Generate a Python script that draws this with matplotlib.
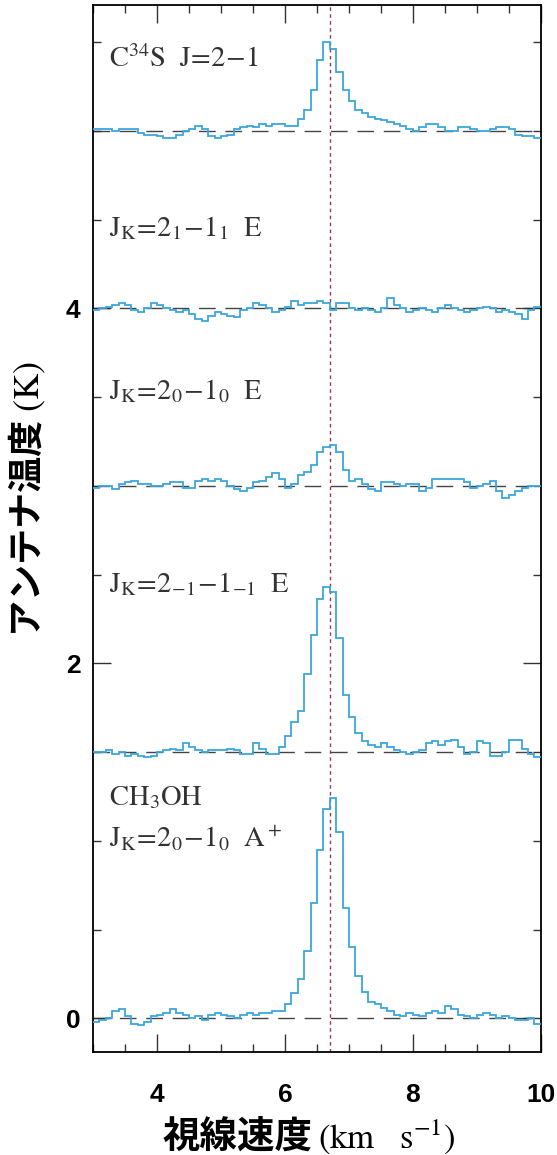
import numpy as np
import matplotlib
matplotlib.use("Agg")
import matplotlib.pyplot as plt
from matplotlib.ticker import MultipleLocator

plt.rcParams["mathtext.fontset"] = "stix"

# channel edges (km/s), 0.1 km/s channels
edges = np.linspace(3.0, 10.0, 71)

# antenna temperature (K) per channel, relative to each baseline
t_a_plus = [
    -0.02, -0.01, 0.00, 0.04, 0.05, 0.01, -0.03, -0.04, -0.02, 0.01,
    0.02, 0.03, 0.05, 0.03, 0.02, 0.00, 0.01, -0.01, 0.02, 0.03,
    0.02, 0.01, 0.00, 0.02, 0.03, 0.02, 0.03, 0.03, 0.04, 0.04,
    0.08, 0.14, 0.22, 0.38, 0.65, 0.95, 1.18, 1.24, 1.05, 0.62,
    0.40, 0.24, 0.15, 0.09, 0.08, 0.06, 0.04, 0.02, 0.01, 0.03,
    0.02, 0.01, 0.03, 0.04, 0.03, 0.07, 0.05, 0.02, 0.01, 0.00,
    0.02, 0.03, 0.02, 0.00, 0.01, 0.00, -0.01, -0.01, 0.00, -0.03,
]
t_e_m1 = [
    0.00, 0.00, 0.01, -0.01, 0.00, -0.02, -0.01, -0.02, -0.03, -0.02,
    0.00, 0.01, 0.02, 0.01, 0.05, 0.03, 0.01, 0.00, 0.01, 0.01,
    0.01, 0.02, 0.01, -0.01, -0.01, 0.05, 0.02, -0.01, -0.01, 0.03,
    0.09, 0.17, 0.23, 0.44, 0.66, 0.86, 0.93, 0.90, 0.64, 0.32,
    0.20, 0.11, 0.06, 0.04, 0.03, 0.05, 0.03, 0.01, 0.00, -0.01,
    0.00, 0.01, 0.05, 0.06, 0.04, 0.06, 0.07, 0.03, -0.01, 0.00,
    0.06, 0.05, -0.02, -0.02, 0.00, 0.07, 0.07, 0.02, -0.01, -0.03,
]
t_e_0 = [
    -0.01, 0.00, 0.00, -0.02, 0.01, 0.02, 0.03, 0.01, 0.01, 0.00,
    0.00, 0.01, 0.02, 0.02, -0.01, -0.01, 0.03, 0.04, 0.03, 0.04,
    0.03, 0.00, -0.02, -0.03, -0.01, 0.02, 0.03, 0.05, 0.07, 0.04,
    -0.01, 0.01, 0.06, 0.08, 0.12, 0.19, 0.22, 0.23, 0.19, 0.09,
    0.03, 0.04, 0.01, -0.02, -0.03, 0.02, 0.02, 0.01, 0.00, 0.01,
    0.01, -0.03, -0.01, 0.04, 0.04, 0.04, 0.04, 0.04, 0.02, -0.01,
    0.00, 0.01, 0.03, -0.03, -0.07, -0.05, -0.03, -0.01, 0.00, 0.00,
]
t_e_1 = [
    -0.01, 0.00, 0.01, 0.02, 0.03, 0.02, -0.01, -0.02, 0.00, 0.03,
    0.02, 0.00, -0.01, -0.02, -0.01, -0.03, -0.06, -0.07, -0.04, -0.02,
    -0.03, -0.04, -0.05, -0.01, 0.00, 0.03, 0.02, 0.00, -0.02, -0.01,
    0.01, 0.04, 0.02, 0.03, 0.03, 0.04, 0.03, -0.01, 0.03, 0.03,
    0.00, -0.01, 0.00, -0.01, -0.02, 0.00, 0.06, 0.02, 0.00, -0.02,
    -0.01, 0.00, -0.01, -0.02, 0.00, 0.02, 0.00, -0.01, -0.02, -0.01,
    0.00, 0.01, 0.00, -0.02, -0.01, -0.02, -0.03, -0.06, -0.01, 0.01,
]
t_c34s = [
    0.01, 0.01, 0.01, 0.00, 0.01, 0.01, 0.01, -0.01, -0.02, -0.02,
    -0.03, -0.04, -0.04, -0.02, 0.00, 0.01, 0.03, 0.01, -0.03, -0.04,
    -0.03, -0.02, 0.01, 0.02, 0.03, 0.02, 0.04, 0.03, 0.04, 0.04,
    0.03, 0.03, 0.07, 0.12, 0.23, 0.40, 0.50, 0.46, 0.33, 0.23,
    0.17, 0.12, 0.10, 0.08, 0.07, 0.06, 0.05, 0.04, 0.03, 0.01,
    0.00, 0.02, 0.04, 0.04, 0.02, 0.00, 0.00, 0.02, 0.02, 0.01,
    0.00, 0.00, 0.01, 0.02, 0.02, 0.01, -0.02, -0.03, -0.03, -0.04,
]

spectra = [t_a_plus, t_e_m1, t_e_0, t_e_1, t_c34s]
offsets = [0.0, 1.5, 3.0, 4.0, 5.0]
labels = [
    (r"$\mathrm{J_K\!=\!2_0\!-\!1_0\ \ A^+}$", 0.965),
    (r"$\mathrm{J_K\!=\!2_{-1}\!-\!1_{-1}\ \ E}$", 2.40),
    (r"$\mathrm{J_K\!=\!2_0\!-\!1_0\ \ E}$", 3.49),
    (r"$\mathrm{J_K\!=\!2_1\!-\!1_1\ \ E}$", 4.41),
    (r"$\mathrm{C^{34}S\ \ J\!=\!2\!-\!1}$", 5.36),
]
v_lsr = 6.71

fig = plt.figure(figsize=(5.57, 11.55), dpi=100)
ax = fig.add_axes([0.167, 0.0892, 0.804, 0.9065])

for t, off in zip(spectra, offsets):
    ax.axhline(off, color="#444444", lw=1.0, dashes=(12, 7), zorder=1)
    ax.stairs(np.array(t) + off, edges, baseline=None, color="#3aa6dc", lw=1.3, zorder=3)

ax.axvline(v_lsr, color="#993366", lw=1.0, dashes=(2.5, 2.5), zorder=2)

for txt, y in labels:
    ax.text(3.25, y, txt, fontsize=20.5, color="#333333", ha="left", va="baseline")
ax.text(3.25, 1.20, r"$\mathrm{CH_3OH}$", fontsize=20.5, color="#333333",
        ha="left", va="baseline")

ax.set_xlim(3, 10)
ax.set_ylim(-0.19, 5.71)
ax.xaxis.set_major_locator(MultipleLocator(2))
ax.xaxis.set_minor_locator(MultipleLocator(0.5))
ax.yaxis.set_major_locator(MultipleLocator(2))
ax.yaxis.set_minor_locator(MultipleLocator(0.5))
ax.tick_params(which="both", direction="in", top=True, right=True, width=1.0,
               colors="#333333", labelcolor="black")
ax.tick_params(which="major", length=13)
ax.tick_params(which="minor", length=6)
ax.tick_params(axis="x", which="major", pad=22)
ax.tick_params(axis="y", which="major", pad=9)
for lab in ax.get_xticklabels() + ax.get_yticklabels():
    lab.set_family("Liberation Sans")
    lab.set_fontsize(19)
    lab.set_fontweight("bold")
for sp in ax.spines.values():
    sp.set_linewidth(1.3)

# x label: bold CJK part + serif unit part
fig.text(313 / 557, 0.0065, "視線速度", fontsize=27, family="Noto Sans CJK JP",
         fontweight="bold", ha="right", va="baseline")
fig.text(318 / 557, 0.0065, r"$(\mathrm{km\ \ \ s^{-1}})$", fontsize=25,
         ha="left", va="baseline")

ax.set_ylabel("アンテナ温度" + r"$\ (\mathrm{K})$", fontsize=26,
              family="Noto Sans CJK JP", fontweight="bold")
ax.yaxis.set_label_coords(-0.10, 0.528)

fig.savefig("out.png", dpi=100)
